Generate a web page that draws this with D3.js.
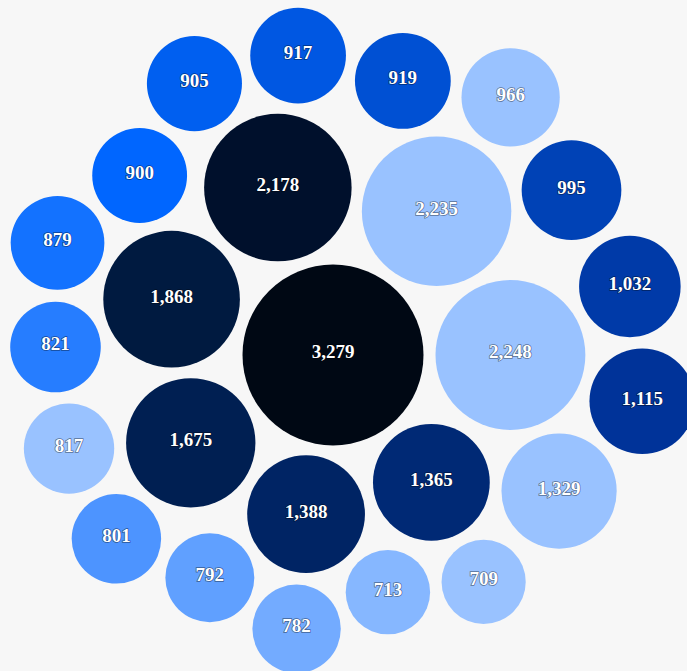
<!DOCTYPE html>
<html>
<head>
<meta charset="utf-8">
<script src="https://cdn.jsdelivr.net/npm/d3@7"></script>
<style>
  body { margin: 0; background: #f7f7f7; }
  svg { display: block; }
</style>
</head>
<body>
<script>
const width = 687;
const height = 671;

// values, largest first (layout places them in this order)
const values = [3279, 2248, 2235, 2178, 1868, 1675, 1388, 1365, 1329, 1115, 1032, 995, 966,
                919, 917, 905, 900, 879, 821, 817, 801, 792, 782, 713, 709];
// bubbles drawn in the pale "muted" colour
const muted = [false, true, true, false, false, false, false, false, true, false, false, false, true,
               false, false, false, false, false, false, true, false, false, false, false, false];

const pad = 12;
const startAngle = 0;

const r = d3.scaleSqrt()
  .domain([0, d3.max(values)])
  .range([0, 90.5]);

const shade = d3.scaleLinear()
  .domain([0, 3, 4, 9, 16, 24])
  .range(["#000814", "#00102c", "#001a40", "#003399", "#0066ff", "#99c2ff"]);

const nodes = values.map((v, i) => ({value: v, rank: i, muted: muted[i], r: r(v), R: r(v) + pad / 2}));

// ring placement: each bubble touches the previous one and one from the ring inside
function tangent(last, origin, node) {
  const dx = last.x - origin.x, dy = last.y - origin.y;
  const d = Math.hypot(dx, dy);
  const a = origin.R + node.R, b = last.R + node.R;
  const c = Math.max(-1, Math.min(1, (d * d + a * a - b * b) / (2 * a * d)));
  const ang = Math.atan2(dy, dx) - Math.acos(c);
  return {x: origin.x + a * Math.cos(ang), y: origin.y + a * Math.sin(ang)};
}
function overlaps(p, q) {
  return Math.hypot(p.x - q.x, p.y - q.y) - (p.R + q.R) < -0.001;
}

let placeBubbles = (list) => {
  const stages = [[list[0]]];
  list[0].x = 0; list[0].y = 0;
  list[1].x = (list[0].R + list[1].R) * Math.cos(startAngle);
  list[1].y = (list[0].R + list[1].R) * Math.sin(startAngle);
  stages.push([list[1]]);
  let stage = 1, j = 0, k = 0;
  for (let i = 2; i < list.length; i++) {
    const n = list[i];
    let p = tangent(stages[stage][j], stages[stage - 1][k], n);
    n.x = p.x; n.y = p.y;
    if (overlaps(n, stages[stage][0])) {
      p = tangent(stages[stage][j], stages[stage][0], n);
      n.x = p.x; n.y = p.y;
      stages.push([n]);
      stage++; j = 0; k = 0;
    } else if (stage > 1 && stages[stage - 1][k + 1] && overlaps(n, stages[stage - 1][k + 1])) {
      k++;
      p = tangent(stages[stage][j], stages[stage - 1][k], n);
      n.x = p.x; n.y = p.y;
      stages[stage].push(n);
      j++;
    } else {
      stages[stage].push(n);
      j++;
    }
  }
};
placeBubbles(nodes);

const svg = d3.select("body")
  .append("svg")
  .attr("width", width)
  .attr("height", height)
  .style("background", "#f7f7f7");

const g = svg.append("g")
  .attr("transform", "translate(333, 355)");

const bubble = g.selectAll("g.bubble")
  .data(nodes)
  .enter()
  .append("g")
  .attr("class", "bubble")
  .attr("transform", d => `translate(${d.x},${d.y})`);

bubble.append("circle")
  .attr("r", d => d.r)
  .attr("fill", d => d.muted ? "#99c2ff" : shade(d.rank));

bubble.append("text")
  .text(d => d3.format(",")(d.value))
  .attr("text-anchor", "middle")
  .attr("dy", "0.18em")
  .style("font-family", "'Liberation Serif', serif")
  .style("font-weight", "bold")
  .style("font-size", "19px")
  .style("fill", "#ffffff")
  .style("stroke", "rgba(0,0,0,0.45)")
  .style("stroke-width", "1.5px")
  .style("paint-order", "stroke");
</script>
</body>
</html>
